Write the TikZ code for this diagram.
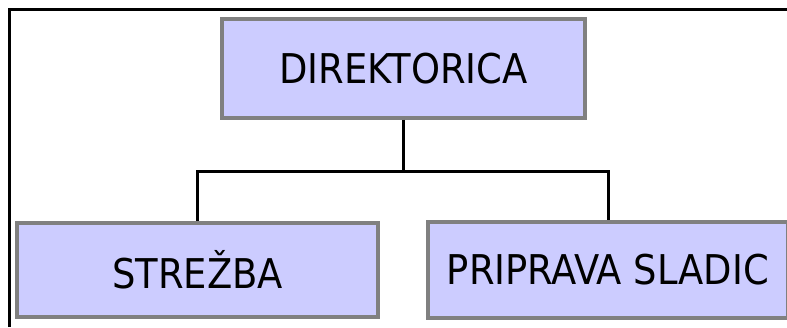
\documentclass[tikz,border=0pt]{standalone}
\usepackage{fontspec}
\setmainfont{DejaVu Sans Condensed}
\definecolor{boxfill}{HTML}{CCCCFF}
\definecolor{boxline}{HTML}{808080}
\begin{document}
\begin{tikzpicture}[x=1pt,y=-1pt,
  orgbox/.style={draw=boxline, fill=boxfill, line width=3.5pt, inner sep=0pt,
    font=\fontsize{41}{48}\selectfont},
  link/.style={draw=black, line width=3pt}]
  \useasboundingbox (0,0) rectangle (787,327);
  % outer frame (top and left sides)
  \draw[line width=3pt] (9,327) -- (9,9) -- (800,9);
  % boxes
  \node[orgbox, minimum width=363pt, minimum height=99pt] (dir) at (403.5,68.5) {DIREKTORICA};
  \node[orgbox, minimum width=361pt, minimum height=94pt] (str) at (197.5,270) {STREŽBA};
  \node[orgbox, minimum width=360pt, minimum height=96pt] (sla) at (608,270) {PRIPRAVA SLADIC};
  % connectors
  \coordinate (j) at (403.5,171);
  \draw[link] (dir.south) -- (j);
  \draw[link] (j) -| (str.north);
  \draw[link] (j) -| (sla.north);
\end{tikzpicture}
\end{document}
